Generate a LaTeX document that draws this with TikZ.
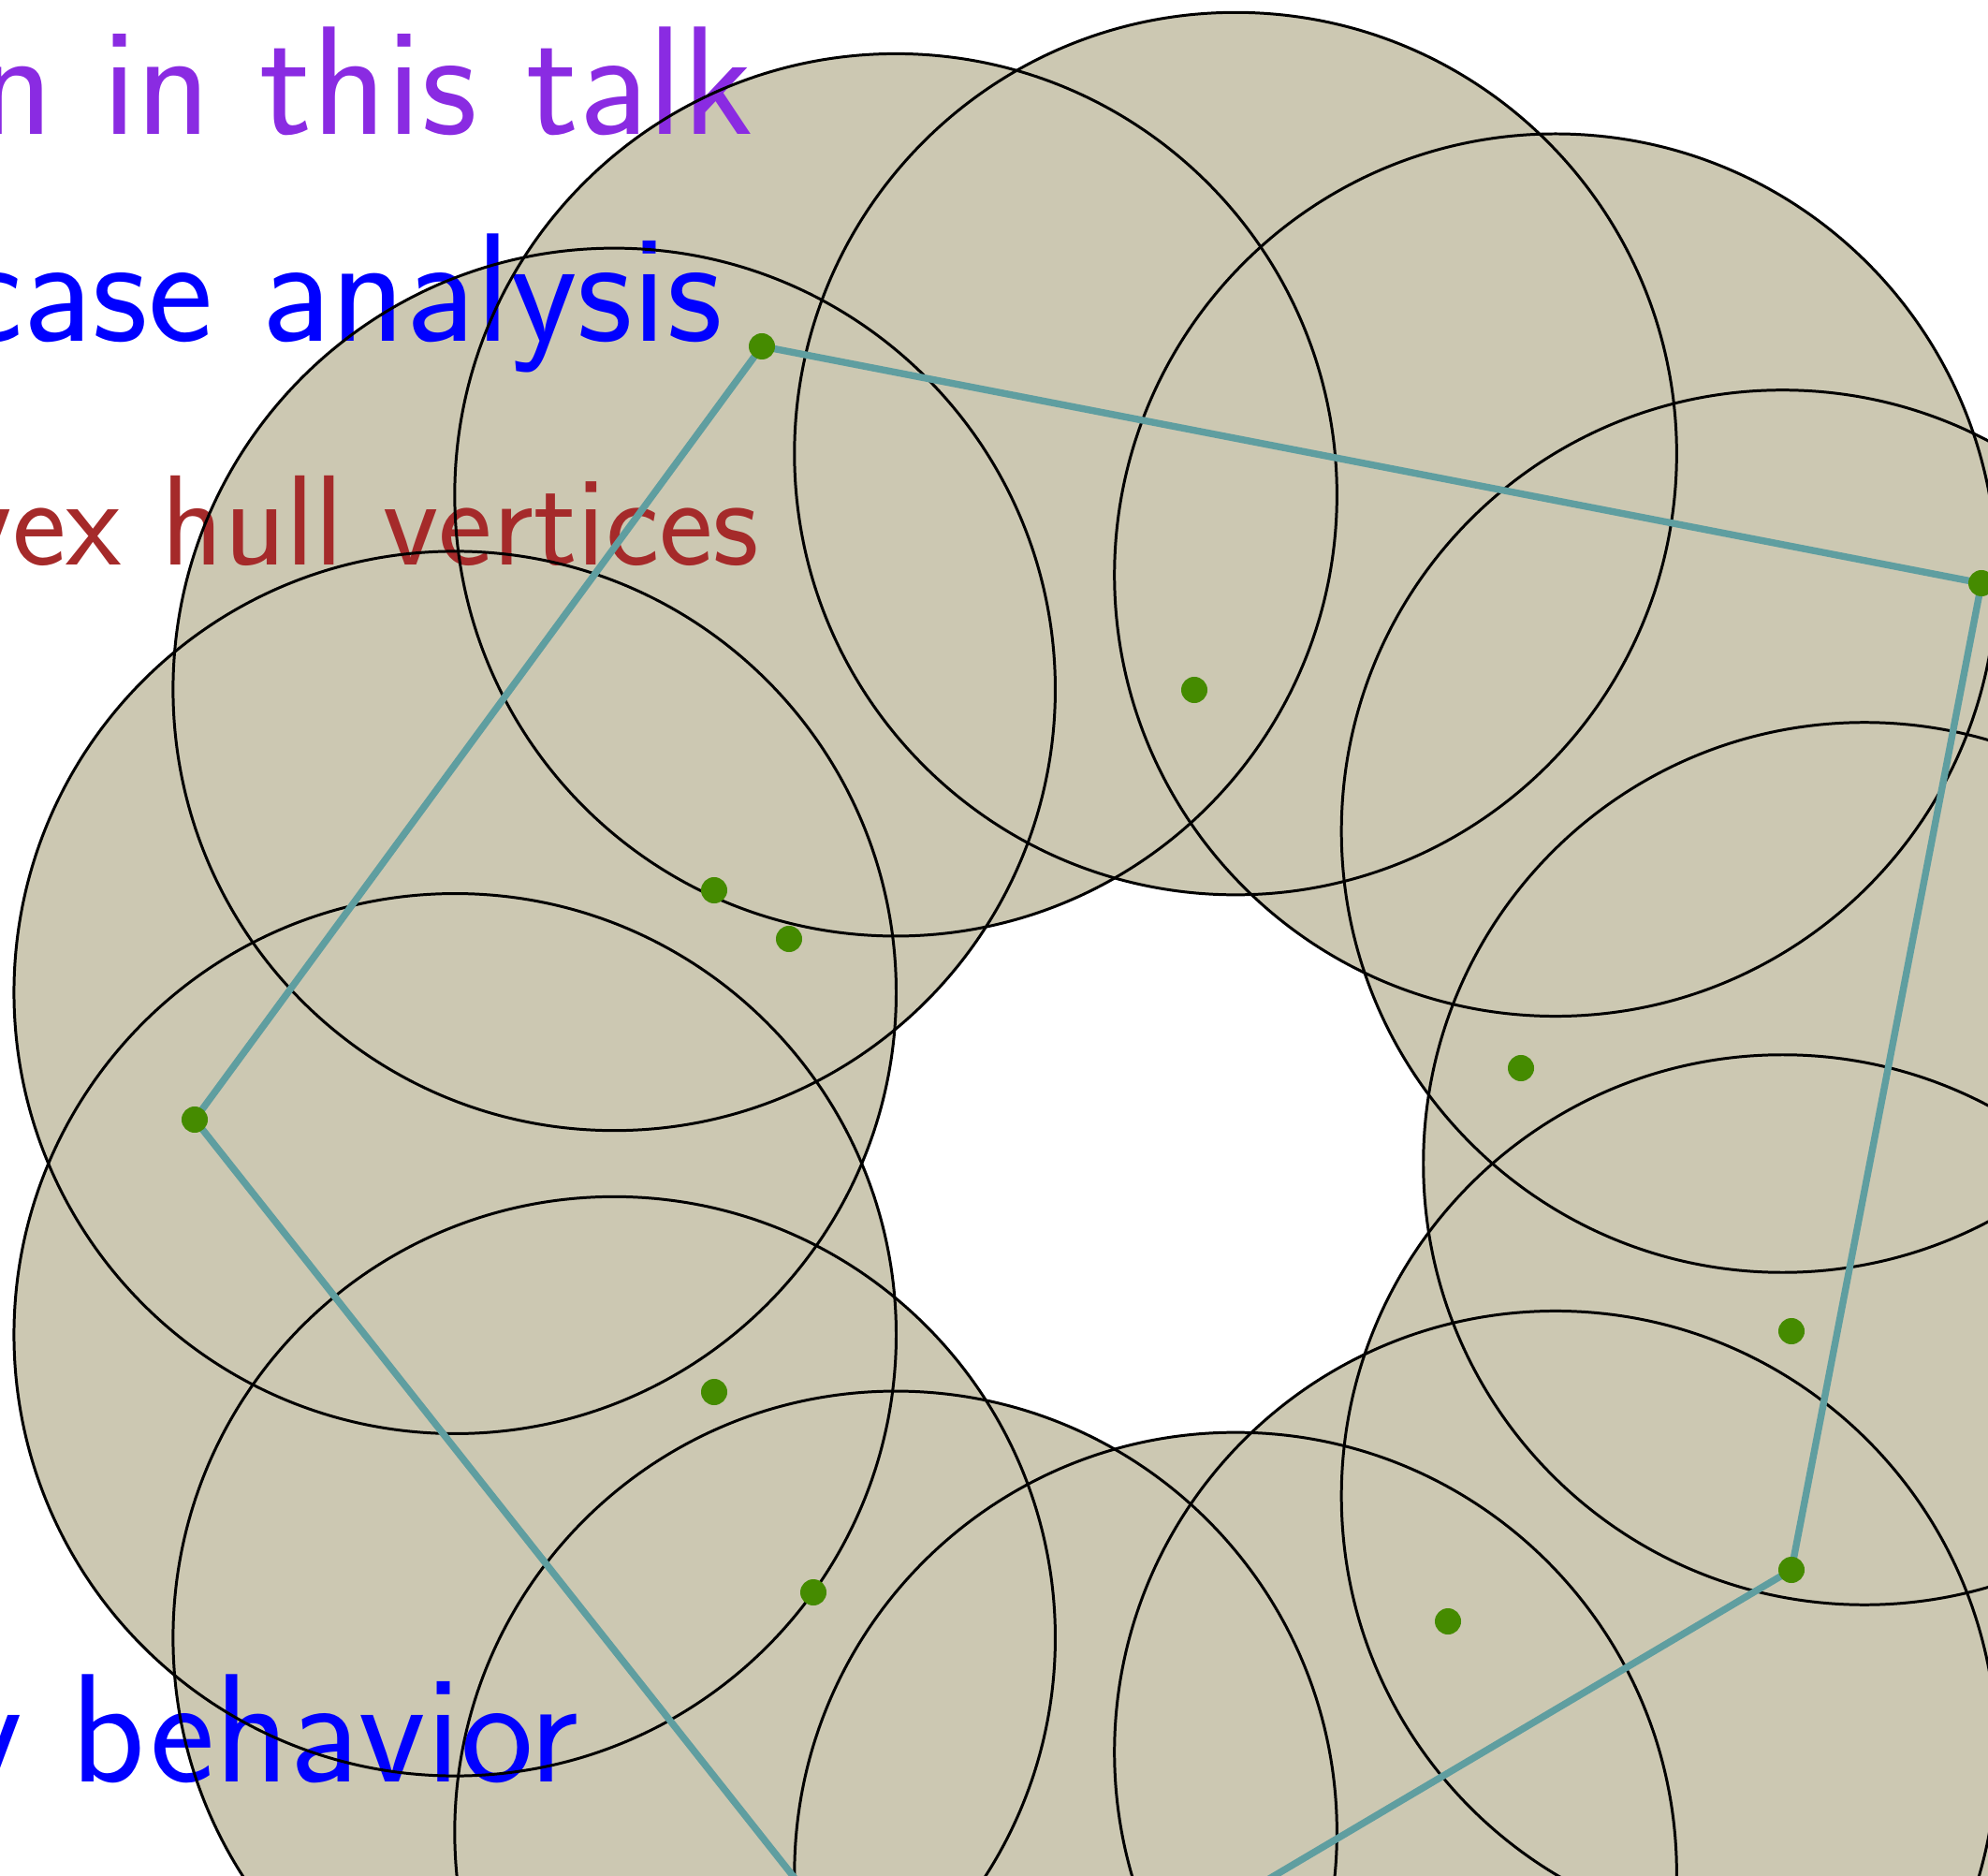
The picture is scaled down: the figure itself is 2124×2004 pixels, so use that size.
\documentclass[tikz,border=0pt]{standalone}
\definecolor{diskfill}{RGB}{204,200,178}
\definecolor{dotgreen}{RGB}{69,139,0}
\definecolor{hullcol}{RGB}{95,158,160}
\definecolor{violetc}{RGB}{138,43,226}
\definecolor{brownc}{RGB}{165,42,42}
\begin{document}
\begin{tikzpicture}[x=0.01cm,y=-0.01cm,
  ringline/.style={draw=black,line width=0.85pt},
  hull/.style={draw=hullcol,line width=2.1pt},
  pt/.style={circle,fill=dotgreen,inner sep=0pt,minimum size=0.28cm},
  lbl/.style={anchor=base east,inner sep=0pt,font=\fontsize{47}{56}\selectfont\sffamily},
  smalllbl/.style={anchor=base east,inner sep=0pt,font=\fontsize{39}{47}\selectfont\sffamily}]
\useasboundingbox (0,0) rectangle (2124,2004);
\clip (0,0) rectangle (2124,2004);
% disks
\foreach \k in {0,...,12}
  \fill[diskfill] ({1228+764*cos(\k*360/13)},{1243-764*sin(\k*360/13)}) circle[radius=4.71cm];
% labels
\node[lbl,text=violetc] (t1) at (806,144) {n in this talk};
\node[lbl,text=blue] (t2) at (773,365) {case analysis};
\node[smalllbl,text=brownc] (t3) at (812,604) {vex hull vertices};
\node[lbl,text=blue] (t4) at (619,1903) {y behavior};
% outlines
\foreach \k in {0,...,12}
  \draw[ringline] ({1228+764*cos(\k*360/13)},{1243-764*sin(\k*360/13)}) circle[radius=4.71cm];
% points
\coordinate (p1) at (814,370);
\coordinate (p2) at (2117,623);
\coordinate (p3) at (1914,1677);
\coordinate (pb) at (1011,2211);
\coordinate (p4) at (208,1196);
\coordinate (q1) at (1276,737);
\coordinate (q2) at (763,951);
\coordinate (q3) at (843,1003);
\coordinate (q4) at (1625,1141);
\coordinate (q5) at (1914,1422);
\coordinate (q6) at (763,1487);
\coordinate (q7) at (869,1701);
\coordinate (q8) at (1547,1732);
\draw[hull] (p1) -- (p2) -- (p3) -- (pb) -- (p4) -- cycle;
\foreach \p in {p1,p2,p3,p4,q1,q2,q3,q4,q5,q6,q7,q8}
  \node[pt] (d\p) at (\p) {};
\end{tikzpicture}
\end{document}
